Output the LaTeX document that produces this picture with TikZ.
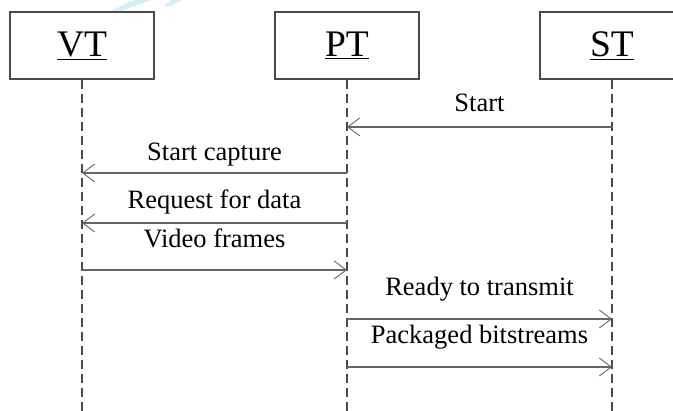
\documentclass[tikz,border=0pt]{standalone}
\usepackage{fontspec}
\setmainfont{Liberation Serif}
\usetikzlibrary{arrows.meta}
\definecolor{boxline}{HTML}{4A4A4A}
\definecolor{msgline}{HTML}{666666}
\definecolor{wmark}{RGB}{212,238,250}
\tikzset{
  actor/.style={draw=boxline, line width=1.1pt, minimum width=144pt,
    minimum height=67pt, inner sep=0pt},
  actorname/.style={anchor=base, inner sep=0pt,
    font=\fontsize{37.5}{40}\selectfont},
  lifeline/.style={draw=boxline, line width=1.2pt, dash pattern=on 9pt off 5pt},
  msg/.style={draw=msgline, line width=1.1pt,
    -{Straight Barb[length=12pt,width=18pt,line width=0.9pt]}},
  msglabel/.style={anchor=base, inner sep=0pt,
    font=\fontsize{26.5}{30}\selectfont},
}
\begin{document}
\begin{tikzpicture}[x=1pt,y=1pt]
\useasboundingbox (0,0) rectangle (673,-411);
\clip (0,0) rectangle (673,-411);

% faint mark along the top edge
\fill[wmark] (110,-11) -- (121,-11) -- (152,0) -- (134,0) -- cycle;
\fill[wmark] (163,-6) -- (171,-6) -- (183,0) -- (172,0) -- cycle;

% participants
\node[actor] (vt) at (82,-45.5) {};
\node[actor] (pt) at (347,-45.5) {};
\node[actor] (st) at (612,-45.5) {};
\node[actorname] (vtname) at (82,-57) {\underline{VT}};
\node[actorname] (ptname) at (347,-57) {\underline{PT}};
\node[actorname] (stname) at (612,-57) {\underline{ST}};

% lifelines
\coordinate (vtend) at (82,-411);
\coordinate (ptend) at (347,-411);
\coordinate (stend) at (612,-411);
\draw[lifeline] (vt.south) -- (vtend);
\draw[lifeline] (pt.south) -- (ptend);
\draw[lifeline] (st.south) -- (stend);

% message end points on the lifelines
\coordinate (st1) at (612,-127);  \coordinate (pt1) at (347,-127);
\coordinate (pt2) at (347,-173);  \coordinate (vt2) at (82,-173);
\coordinate (pt3) at (347,-223);  \coordinate (vt3) at (82,-223);
\coordinate (vt4) at (82,-270);   \coordinate (pt4) at (347,-270);
\coordinate (pt5) at (347,-319);  \coordinate (st5) at (612,-319);
\coordinate (pt6) at (347,-367);  \coordinate (st6) at (612,-367);

% messages
\draw[msg] (st1) -- (pt1);
\draw[msg] (pt2) -- (vt2);
\draw[msg] (pt3) -- (vt3);
\draw[msg] (vt4) -- (pt4);
\draw[msg] (pt5) -- (st5);
\draw[msg] (pt6) -- (st6);

% message labels
\node[msglabel] (l1) at (479.5,-112) {Start};
\node[msglabel] (l2) at (214.5,-161) {Start capture};
\node[msglabel] (l3) at (214.5,-209) {Request for data};
\node[msglabel] (l4) at (214.5,-248) {Video frames};
\node[msglabel] (l5) at (479.5,-296) {Ready to transmit};
\node[msglabel] (l6) at (479.5,-344) {Packaged bitstreams};
\end{tikzpicture}
\end{document}
